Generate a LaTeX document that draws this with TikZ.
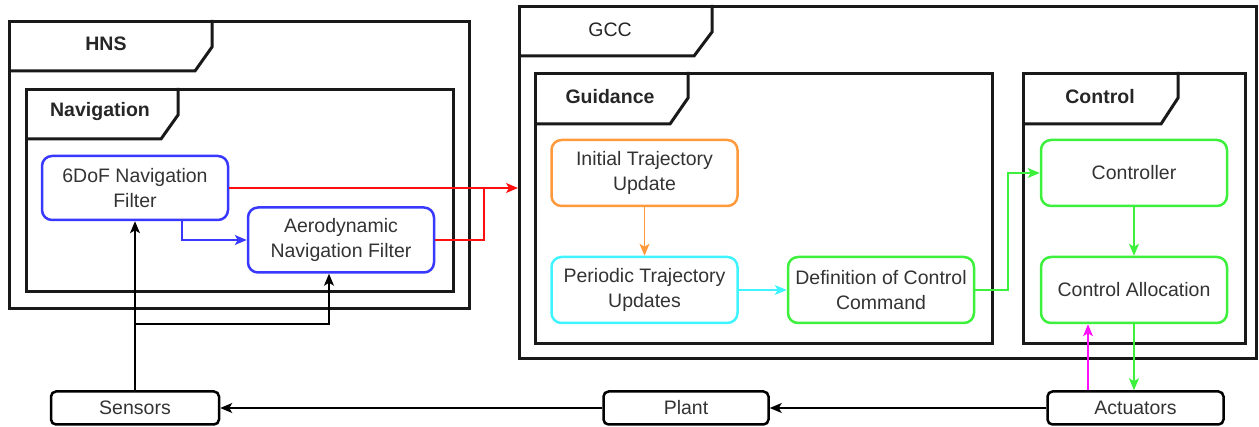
\documentclass[tikz,border=0pt]{standalone}
\usepackage{fontspec}
\setmainfont{Liberation Sans}
\usetikzlibrary{arrows.meta}
\definecolor{cblue}{HTML}{3838FF}
\definecolor{corange}{HTML}{FF9A3C}
\definecolor{ccyan}{HTML}{40F4FF}
\definecolor{cgreen}{HTML}{3CF03C}
\definecolor{cred}{HTML}{FF1010}
\definecolor{cmag}{HTML}{FF10FF}
\definecolor{txt}{HTML}{333333}
\newcommand{\fs}{\fontsize{19.5}{25}\selectfont}
\begin{document}
\begin{tikzpicture}[x=1pt,y=-1pt,
  frame/.style={draw=black!90, line width=3pt},
  lbl/.style={font=\fs\bfseries, text=black!85, inner sep=0pt},
  proc/.style={draw, rounded corners=10pt, line width=2.5pt, minimum width=186pt,
    minimum height=66pt, align=center, font=\fs, text=txt, inner sep=2pt},
  io/.style={draw=black, rounded corners=5pt, line width=2.5pt, minimum height=33pt,
    font=\fs, text=txt, inner sep=0pt},
  conn/.style={line width=1.3pt, -{Stealth[length=12pt,width=10pt,inset=3pt]}},
  wire/.style={line width=1.3pt}
]
\useasboundingbox (0,0) rectangle (1259,427);

% ---- HNS frame
\node[frame, minimum width=460pt, minimum height=287pt, anchor=north west, inner sep=0pt] (hns) at (8,20) {};
\draw[frame] (8,71) -- (195,71) -- (212,47) -- (212,20);
\node[lbl] (hnsl) at (106,44) {HNS};
% ---- Navigation frame
\node[frame, minimum width=427pt, minimum height=202pt, anchor=north west, inner sep=0pt] (nav) at (25,88) {};
\draw[frame] (25,139) -- (161,139) -- (178,115) -- (178,88);
\node[lbl] (navl) at (100,112) {Navigation};

% ---- GCC frame
\node[frame, minimum width=737pt, minimum height=352pt, anchor=north west, inner sep=0pt] (gcc) at (518,5) {};
\draw[frame] (518,56) -- (694,56) -- (712,32) -- (712,5);
\node[lbl, font=\fs] (gccl) at (610,30) {GCC};
% ---- Guidance frame
\node[frame, minimum width=457pt, minimum height=270pt, anchor=north west, inner sep=0pt] (guid) at (534,72) {};
\draw[frame] (534,124) -- (670,124) -- (688,98) -- (688,72);
\node[lbl] (guidl) at (610,97) {Guidance};
% ---- Control frame
\node[frame, minimum width=222pt, minimum height=270pt, anchor=north west, inner sep=0pt] (ctl) at (1022,72) {};
\draw[frame] (1022,124) -- (1161,124) -- (1178,98) -- (1178,72);
\node[lbl] (ctll) at (1100,97) {Control};

% ---- process boxes
\node[proc, draw=cblue, minimum height=64pt] (nav6) at (135,188) {6DoF Navigation\\Filter};
\node[proc, draw=cblue, minimum height=65pt] (aero) at (341,240) {Aerodynamic\\Navigation Filter};
\node[proc, draw=corange] (init) at (644.5,173) {Initial Trajectory\\Update};
\node[proc, draw=ccyan] (per) at (644.5,290) {Periodic Trajectory\\Updates};
\node[proc, draw=cgreen] (def) at (881,290) {Definition of Control\\Command};
\node[proc, draw=cgreen] (ctrl) at (1134,173) {Controller};
\node[proc, draw=cgreen] (ca) at (1134,290) {Control Allocation};

% ---- bottom boxes
\node[io, minimum width=168pt] (sens) at (135,408) {Sensors};
\node[io, minimum width=165pt] (plant) at (686,408) {Plant};
\node[io, minimum width=176pt] (act) at (1135.5,408) {Actuators};

% ---- junction coordinates
\coordinate (rj) at (484,0);
\coordinate (gj) at (1008,0);
\coordinate (bj) at (135,324);

% ---- connectors
\draw[conn, cblue] ([xshift=47pt]nav6.south) |- (aero.west);
\draw[conn, cred] (nav6.east) -- (nav6.east -| gcc.west);
\draw[wire, cred] (aero.east) -| (rj |- nav6.east);
\draw[conn] (sens.north) -- (sens.north |- nav6.south);
\draw[conn] (bj) -| ([xshift=-12pt]aero.south);
\draw[conn, corange] (init.south) -- (per.north);
\draw[conn, ccyan] (per.east) -- (def.west);
\draw[conn, cgreen] (def.east) -- (def.east -| gj) -- (gj |- ctrl.west) -- (ctrl.west);
\draw[conn, cgreen] (ctrl.south) -- (ca.north);
\draw[conn, cgreen] (ca.south) -- (ca.south |- act.north);
\draw[conn, cmag] ([xshift=-47.5pt]act.north) -- ([xshift=-47.5pt]act.north |- ca.south);
\draw[conn] (act.west) -- (plant.east);
\draw[conn] (plant.west) -- (sens.east);
\end{tikzpicture}
\end{document}
